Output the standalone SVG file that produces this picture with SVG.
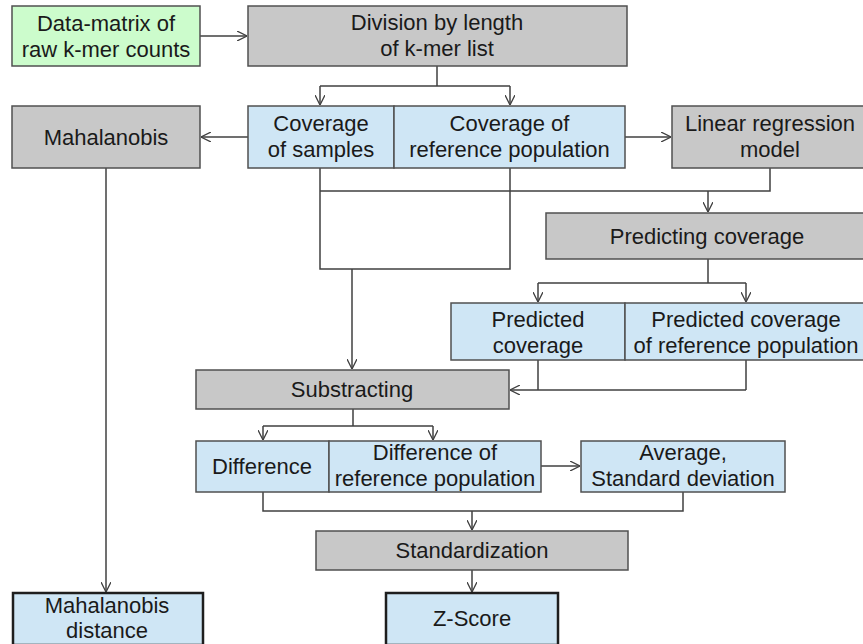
<svg xmlns="http://www.w3.org/2000/svg" width="863" height="644" viewBox="0 0 863 644">
<defs>
<marker id="arr" viewBox="0 0 10 10" refX="10" refY="5" markerWidth="10" markerHeight="10" markerUnits="userSpaceOnUse" orient="auto">
<path d="M0,0 L10,5 L0,10" fill="none" stroke="#404040" stroke-width="1.3"/>
</marker>
<style>
.g{fill:#c8c8c8;stroke:#505050;stroke-width:1.5}
.b{fill:#cfe6f5;stroke:#505050;stroke-width:1.5}
.bt{fill:#cfe6f5;stroke:#1e1e1e;stroke-width:2.5}
.gr{fill:#ccfccc;stroke:#505050;stroke-width:1.5}
text{font-family:"Liberation Sans",Arial,sans-serif;font-size:22px;fill:#1a1a1a;text-anchor:middle}
.c{fill:none;stroke:#404040;stroke-width:1.5}
.ca{fill:none;stroke:#404040;stroke-width:1.5;marker-end:url(#arr)}
</style>
</defs>
<rect width="863" height="644" fill="#ffffff"/>

<g id="connectors">
<path class="ca" d="M200,36 H247"/>
<path class="c" d="M437,66 V86 M320,86 H510"/>
<path class="ca" d="M320,86 V105"/>
<path class="ca" d="M510,86 V105"/>
<path class="ca" d="M248,137 H201"/>
<path class="ca" d="M625,137 H671"/>
<path class="c" d="M320,168 V269 H510 V168 M320,191 H770 V168"/>
<path class="ca" d="M708,191 V212"/>
<path class="ca" d="M352,269 V369"/>
<path class="c" d="M708,259 V283 M538,283 H746"/>
<path class="ca" d="M538,283 V302"/>
<path class="ca" d="M746,283 V302"/>
<path class="c" d="M538,360 V390 M746,360 V390"/>
<path class="ca" d="M746,390 H510"/>
<path class="c" d="M353,409 V426 M263,426 H433"/>
<path class="ca" d="M263,426 V440"/>
<path class="ca" d="M433,426 V440"/>
<path class="ca" d="M541,466 H580"/>
<path class="c" d="M263,492 V511 H683 V492"/>
<path class="ca" d="M472,511 V530"/>
<path class="ca" d="M472,570 V592"/>
<path class="ca" d="M106,168 V592"/>
</g>

<g id="data-matrix">
<rect class="gr" x="12" y="6" width="188" height="60"/>
<text x="106" y="31">Data-matrix of</text>
<text x="106" y="57">raw k-mer counts</text>
</g>

<g id="division">
<rect class="g" x="248" y="6" width="379" height="60"/>
<text x="437" y="30">Division by length</text>
<text x="437" y="56">of k-mer list</text>
</g>

<g id="mahalanobis">
<rect class="g" x="12" y="106" width="188" height="62"/>
<text x="106" y="145">Mahalanobis</text>
</g>

<g id="coverage-samples">
<rect class="b" x="248" y="106" width="146" height="62"/>
<text x="321" y="131">Coverage</text>
<text x="321" y="157">of samples</text>
</g>

<g id="coverage-reference">
<rect class="b" x="394" y="106" width="231" height="62"/>
<text x="509.5" y="131">Coverage of</text>
<text x="509.5" y="157">reference population</text>
</g>

<g id="linear-regression">
<rect class="g" x="672" y="106" width="200" height="62"/>
<text x="770" y="131">Linear regression</text>
<text x="770" y="157">model</text>
</g>

<g id="predicting-coverage">
<rect class="g" x="546" y="213" width="326" height="46"/>
<text x="707" y="244">Predicting coverage</text>
</g>

<g id="predicted-coverage">
<rect class="b" x="451" y="303" width="174" height="57"/>
<text x="538" y="327">Predicted</text>
<text x="538" y="353">coverage</text>
</g>

<g id="predicted-reference">
<rect class="b" x="625" y="303" width="247" height="57"/>
<text x="746" y="327">Predicted coverage</text>
<text x="746" y="353">of reference population</text>
</g>

<g id="substracting">
<rect class="g" x="196" y="370" width="313" height="39"/>
<text x="352" y="397">Substracting</text>
</g>

<g id="difference">
<rect class="b" x="196" y="441" width="133" height="51"/>
<text x="262" y="474">Difference</text>
</g>

<g id="difference-reference">
<rect class="b" x="329" y="441" width="212" height="51"/>
<text x="435" y="460">Difference of</text>
<text x="435" y="486">reference population</text>
</g>

<g id="average">
<rect class="b" x="581" y="441" width="204" height="51"/>
<text x="683" y="460">Average,</text>
<text x="683" y="486">Standard deviation</text>
</g>

<g id="standardization">
<rect class="g" x="316" y="531" width="312" height="39"/>
<text x="472" y="558">Standardization</text>
</g>

<g id="mahalanobis-distance">
<rect class="bt" x="13" y="593" width="190" height="52"/>
<text x="107" y="613">Mahalanobis</text>
<text x="107" y="638">distance</text>
</g>

<g id="z-score">
<rect class="bt" x="386" y="593" width="172" height="52"/>
<text x="472" y="626">Z-Score</text>
</g>
</svg>
